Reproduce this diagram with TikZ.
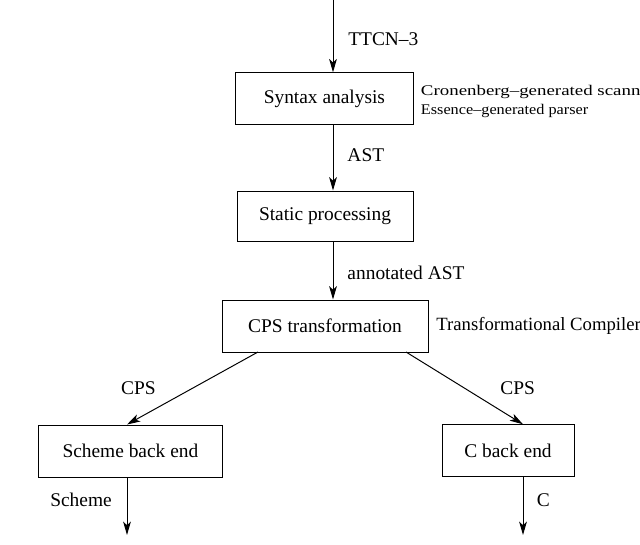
\documentclass[tikz,border=0pt]{standalone}
\usepackage{fontspec}
\usepackage{graphicx}
\setmainfont{Liberation Serif}
\usetikzlibrary{positioning,arrows.meta}
\tikzset{
  stage/.style={draw, line width=0.7pt, minimum height=1.28cm, font=\fontsize{13.8}{16}\selectfont},
  lbl/.style={inner sep=0pt, font=\fontsize{13.8}{16}\selectfont},
  note/.style={inner sep=0pt, align=left, font=\fontsize{10.5}{13.5}\selectfont},
  flow/.style={line width=0.7pt, -{Stealth[length=9.5pt,width=5.5pt,inset=2.5pt]}}
}
\begin{document}
\begin{tikzpicture}
\useasboundingbox (0,0) rectangle (16,13.6);
\clip (0,0) rectangle (16,13.6);
\node[stage, minimum width=4.43cm] (syn) at (8.11,11.14) {Syntax analysis};
\node[stage, minimum width=4.4cm, minimum height=1.25cm] (stat) at (8.125,8.2) {Static processing};
\node[stage, minimum width=5.15cm, minimum height=1.3cm] (cps) at (8.125,5.45) {CPS transformation};
\node[stage, minimum width=4.58cm, minimum height=1.3cm] (sch) at (3.26,2.325) {Scheme back end};
\node[stage, minimum width=3.3cm] (cbe) at (12.7,2.34) {C back end};
\node[note, right=0.18cm of syn, yshift=-0.07cm] (synnote)
  {\scalebox{1.28}[1]{Cronenberg--generated scanner}\\\scalebox{1.1}[1]{Essence--generated parser}};
\node[note, right=0.19cm of cps, font=\fontsize{13.3}{15}\selectfont] (cpsnote) {Transformational Compiler};
\coordinate (in) at (8.325,13.6);
\coordinate (schout) at (3.175,0.225);
\coordinate (cout) at (13.075,0.225);
\draw[flow] (in) -- node[lbl, right, xshift=0.37cm, yshift=-0.07cm]{TTCN--3} (in |- syn.north);
\draw[flow] (in |- syn.south) -- node[lbl, right, xshift=0.35cm, yshift=0.06cm]{AST} (in |- stat.north);
\draw[flow] (in |- stat.south) -- node[lbl, right, xshift=0.35cm, yshift=-0.06cm]{annotated AST} (in |- cps.north);
\draw[flow] (6.45,4.8) -- node[lbl, xshift=-1.35cm]{CPS} (schout |- sch.north);
\draw[flow] (10.15,4.8) -- node[lbl, xshift=1.33cm]{CPS} (cout |- cbe.north);
\draw[flow] (schout |- sch.south) -- node[lbl, xshift=-1.15cm, yshift=0.15cm]{Scheme} (schout);
\draw[flow] (cout |- cbe.south) -- node[lbl, xshift=0.51cm, yshift=0.14cm]{C} (cout);
\end{tikzpicture}
\end{document}
